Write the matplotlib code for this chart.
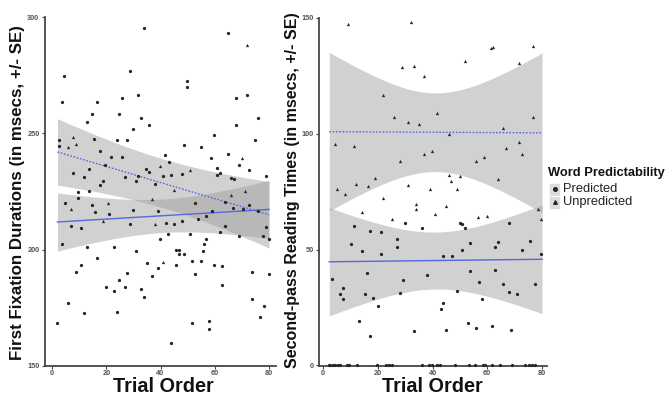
import numpy as np
import matplotlib
matplotlib.use("Agg")
import matplotlib.pyplot as plt
from matplotlib.patches import Rectangle
from matplotlib.lines import Line2D

plt.rcParams['font.family'] = ['Liberation Sans', 'DejaVu Sans']

# ---------------- data ----------------
# Left panel: First fixation durations
ffd_pred_x = [34, 64.8, 4.5, 28.8, 49.7, 49.7, 3.6, 16.7, 25.8, 31.7, 67.9, 71.8, 14.8, 24.7, 12.8, 32.7,
              35.8, 29.8, 75.9, 67.9, 59.9, 2.7, 15.5, 23.9, 27.8, 74.9, 2.7, 48.7, 54.9, 17.7, 64.9, 21.7,
              25.8, 41.8, 58.8, 43, 19.7, 68.9, 13.8, 34.7, 60.8, 72.8, 7.9, 35.8, 62, 11.8, 27, 31.7, 40.8,
              43.9, 47.9, 60.8, 66, 67, 79, 18.7, 30.9, 17.7, 38,
              9.7, 13.8, 9.7, 4.7, 14.6, 52.9, 63.8, 72.8, 15.7, 20.9, 29.8, 38.9, 58.9, 66.9, 70.4, 76.1,
              56.8, 54, 7, 10.7, 28.9, 42, 44.9, 48, 63.8, 79, 50.9, 62, 69, 77.9, 80.1, 39.9, 42.9, 56.8,
              56, 3.7, 12.8, 22.9, 45.8, 46.7, 30.9, 55.8, 46.9, 48.8, 16.7, 51.8, 55, 34.9, 10.7, 45.9,
              59.8, 62.8, 38.9, 8.7, 27.8, 73.9, 52.9, 80, 36.9, 24.7, 62.8, 19.8, 26.8, 22.9, 32.8, 33.8,
              73.9, 5.7, 78, 11.7, 23.9, 76.8, 1.7, 51.8, 57.9, 57.9, 43.8]
ffd_pred_y = [295.4, 293, 274.7, 276.8, 272.4, 269.9, 263.5, 263.5, 265.1, 266.4, 265.3, 266.4, 258.2, 258.4,
              254.7, 256.5, 253.4, 251.9, 256.5, 253.6, 249.3, 247.2, 247.5, 247.2, 247.3, 247.2, 244.6,
              245.2, 244.3, 242.6, 241.2, 239.9, 239.9, 240.9, 239.4, 237.7, 236.4, 236.6, 234.7, 234.7,
              235.3, 234.1, 232.8, 233.4, 233.1, 231.4, 231.4, 231.7, 231.7, 232, 232.5, 232, 230.8, 230.3,
              231.7, 229.7, 229.5, 228, 228.1,
              225, 225.4, 222, 219.9, 219.1, 220.2, 220.5, 219.1, 216.2, 215.5, 216.9, 216.6, 216.8, 217.9,
              217.6, 216.5, 214.5, 213.2, 210.3, 209.2, 211.2, 211.3, 210.9, 212.2, 210.3, 209.7, 206.9,
              207.4, 206, 206, 204.7, 204.4, 206.6, 204.7, 202.3, 202.4, 201.1, 201.3, 199.8, 199.8, 199.6,
              199.6, 198, 198.3, 196.6, 195, 195, 194.2, 193.5, 193.4, 193.2, 192.9, 192.1, 190.5, 189.8,
              190.5, 189.4, 189.4, 188.5, 186.9, 185, 183.8, 184.1, 182.3, 183, 179.5, 178.9, 177.2, 175.9,
              172.7, 173, 171, 168.4, 168.4, 169.3, 166.1, 160.1]
ffd_unpred_x = [71.8, 7.9, 5.8, 8.7, 70.1, 39.9, 50.8, 44.8, 71.1, 36.9, 65.9, 20.8, 6.9, 18.7, 37.9, 40.8]
ffd_unpred_y = [288, 248.6, 244, 245.5, 239.6, 236, 234.1, 225.7, 225.4, 221.8, 223.4, 220.2, 217.6, 212.3,
                210.9, 194.5]

# Right panel: Second-pass reading times
spr_unpred_x = [9.1, 32, 61.3, 62, 76.6, 51.9, 71.6, 28.9, 33.1, 37, 22, 26, 41.7, 76.6, 31, 34.9, 65.7,
                45.9, 4.3, 11.3, 71.5, 66.8, 72.6, 36.9, 39.9, 28, 55.7, 58.8, 19.1, 45.9, 49.9, 63.8, 12.2,
                16.3, 31, 46.8, 5.1, 38.9, 48.9, 8.2, 22, 34.1, 34.1, 45, 14.2, 41, 56.7, 59.9, 78.5, 79.7,
                25.2]
spr_unpred_y = [147.6, 148.3, 137.2, 137.6, 137.8, 131.6, 130.4, 129, 129.4, 125.1, 116.6, 107.4, 108.8,
                107.4, 104.9, 104.1, 102.5, 99.7, 95.5, 94.7, 96.4, 94, 91.4, 91.1, 92.6, 88.2, 88.3, 89.8,
                80.8, 82.3, 81.7, 80.3, 78.4, 77.4, 77.8, 79.4, 76.2, 76.2, 76.2, 74.1, 72.3, 69.7, 67.3,
                68.7, 66.3, 65.3, 63.9, 64.6, 67.6, 63.3, 63.3]
spr_pred_x = [30, 49.9, 50.7, 51.7, 67.8, 11.3, 36, 17.3, 21.2, 27.1, 27.1, 10.3, 53.8, 63.8, 62.9, 75.7,
              14.2, 50.8, 72.6, 21.2, 43.8, 47.1, 79.7, 3.3, 16.2, 38, 53.8, 62.9, 29.1, 56.8, 7.2, 6.1, 7.2,
              15.2, 18.1, 28.1, 48.9, 57.9, 65.8, 67.8, 70.7, 77.6, 20.1, 44, 43, 13.2, 52.9, 55.7, 61.8,
              33.1, 45, 68.6, 17.2,
              2.1, 2.7, 3.5, 4.5, 5.5, 6.3, 8.8, 9.4, 12.4, 19.7, 23, 24.2, 25.2, 36.1, 38.6, 39.8, 41.6,
              42.8, 48.3, 53.2, 55.6, 58.3, 59.2, 61.7, 64.8, 69, 73.9, 75.1, 76.3, 77.6]
spr_pred_y = [61.3, 61.3, 61.1, 59.5, 61.3, 60, 59.5, 58.1, 57.5, 54.5, 51.3, 52.3, 52.7, 53.2, 51, 53.9,
              49.4, 49.6, 50, 48, 47.1, 47, 48, 37.2, 39.8, 38.9, 40.6, 41.2, 36.9, 35.9, 33.6, 30.6, 28.8,
              30.6, 29.1, 31.4, 31.9, 28.8, 35, 31.7, 31, 35, 25.5, 27.1, 24.2, 19.3, 18.2, 15.9, 16.9,
              14.7, 15.1, 15.1, 12.8,
              0, 0, 0, 0, 0, 0, 0, 0, 0, 0, 0, 0, 0, 0, 0, 0, 0, 0, 0, 0, 0, 0, 0, 0, 0, 0, 0, 0, 0, 0]

# Fitted lines (value at x=2 and x=80) and SE half-widths (centre, ends)
fit_x = [2, 80]
ffd_pred_fit = [211.9, 217.3]
ffd_pred_se = [7.2, 12.5]
ffd_unpred_fit = [242.0, 215.0]
ffd_unpred_se = [10.5, 14.3]
spr_pred_fit = [44.7, 45.8]
spr_pred_se = [12.3, 23.5]
spr_unpred_fit = [100.9, 100.4]
spr_unpred_se = [17.0, 34.5]

x_ticks = [0, 20, 40, 60, 80]
ffd_ticks = [150, 200, 250, 300]
spr_ticks = [0, 50, 100, 150]

# ---------------- drawing ----------------
W, H = 667, 395
fig = plt.figure(figsize=(W / 100, H / 100), dpi=100)
fig.patch.set_facecolor('white')

spine_col = '#4d4242'
line_col = '#5468e0'
band_col = '#9a9a9a'


def px_axes(l, r, t, b):
    return fig.add_axes([l / W, 1 - b / H, (r - l) / W, (b - t) / H])


def draw_band(ax, fit, se, ls, x0=2.0, x1=80.0):
    xs = np.linspace(x0, x1, 200)
    xm = (fit_x[0] + fit_x[1]) / 2
    slope = (fit[1] - fit[0]) / (fit_x[1] - fit_x[0])
    yc = fit[0] + slope * (xs - fit_x[0])
    hm, he = se
    k = np.sqrt(he ** 2 - hm ** 2) / (xm - fit_x[0])
    h = np.sqrt(hm ** 2 + (k * (xs - xm)) ** 2)
    ax.fill_between(xs, yc - h, yc + h, color=band_col, alpha=0.45, lw=0, zorder=1)
    ax.plot(xs, yc, color=line_col, lw=1.0, ls=ls, zorder=3)


def style(ax, xlim, ylim, yticks):
    ax.set_xlim(*xlim)
    ax.set_ylim(*ylim)
    ax.set_xticks(x_ticks)
    ax.set_yticks(yticks)
    for s in ['top', 'right']:
        ax.spines[s].set_visible(False)
    for s in ['left', 'bottom']:
        ax.spines[s].set_color(spine_col)
        ax.spines[s].set_linewidth(1.3)
    ax.tick_params(colors=spine_col, length=2.5, width=0.8, labelsize=5.3, pad=1.5,
                   labelcolor='#555555')
    ax.tick_params(axis='x', pad=0.6)
    for lab in ax.get_xticklabels() + ax.get_yticklabels():
        lab.set_fontweight('bold')
    ax.set_facecolor('white')


pt_kw = dict(color='#2a2424', s=5.5, lw=0, zorder=4, clip_on=False)

# Left panel
ax1 = px_axes(45, 276, 17, 366)
draw_band(ax1, ffd_unpred_fit, ffd_unpred_se, (0, (1.2, 1.2)))
draw_band(ax1, ffd_pred_fit, ffd_pred_se, '-')
ax1.scatter(ffd_pred_x, ffd_pred_y, marker='o', **pt_kw)
ax1.scatter(ffd_unpred_x, ffd_unpred_y, marker='^', **pt_kw)
style(ax1, (-2.6, 82.6), (150, 300), ffd_ticks)

# Right panel
ax2 = px_axes(319, 547, 18, 366)
draw_band(ax2, spr_unpred_fit, spr_unpred_se, (0, (1.2, 1.2)), x0=2.3)
draw_band(ax2, spr_pred_fit, spr_pred_se, '-', x0=2.3)
ax2.scatter(spr_pred_x, spr_pred_y, marker='o', **pt_kw)
ax2.scatter(spr_unpred_x, spr_unpred_y, marker='^', **pt_kw)
style(ax2, (-1.46, 81.8), (-0.3, 150), spr_ticks)

# Axis labels
fig.text(18 / W, 1 - 193 / H, 'First Fixation Durations (in msecs, +/- SE)', rotation=90,
         ha='center', va='center', fontsize=12.2, fontweight='bold', color='#111111')
fig.text(292 / W, 1 - 190 / H, 'Second-pass Reading Times (in msecs, +/- SE)', rotation=90,
         ha='center', va='center', fontsize=11.5, fontweight='bold', color='#111111')
fig.text(163 / W, 1 - 392 / H, 'Trial Order', ha='center', va='baseline', fontsize=14.3,
         fontweight='bold', color='#111111')
fig.text(432 / W, 1 - 392 / H, 'Trial Order', ha='center', va='baseline', fontsize=14.3,
         fontweight='bold', color='#111111')

# Legend (manual, ggplot style)
fig.text(548 / W, 1 - 173 / H, 'Word Predictability', ha='left', va='center', fontsize=9.3,
         fontweight='bold', color='#111111')
legend_labels = ['Predicted', 'Unpredicted']
legend_markers = ['o', '^']
for i, (lab, mk) in enumerate(zip(legend_labels, legend_markers)):
    yc = 189 + i * 13
    fig.patches.append(Rectangle((549 / W, 1 - (yc + 6.5) / H), 11 / W, 13 / H,
                                 transform=fig.transFigure, facecolor='#dcdcdc',
                                 edgecolor='white', lw=0.5))
    fig.lines.append(Line2D([554.5 / W], [1 - yc / H], transform=fig.transFigure, marker=mk,
                            markersize=2.6, color='#2a2424', lw=0))
    fig.text(563 / W, 1 - yc / H, lab, ha='left', va='center', fontsize=9.3, color='#222222')

fig.savefig('out.png', dpi=100)
